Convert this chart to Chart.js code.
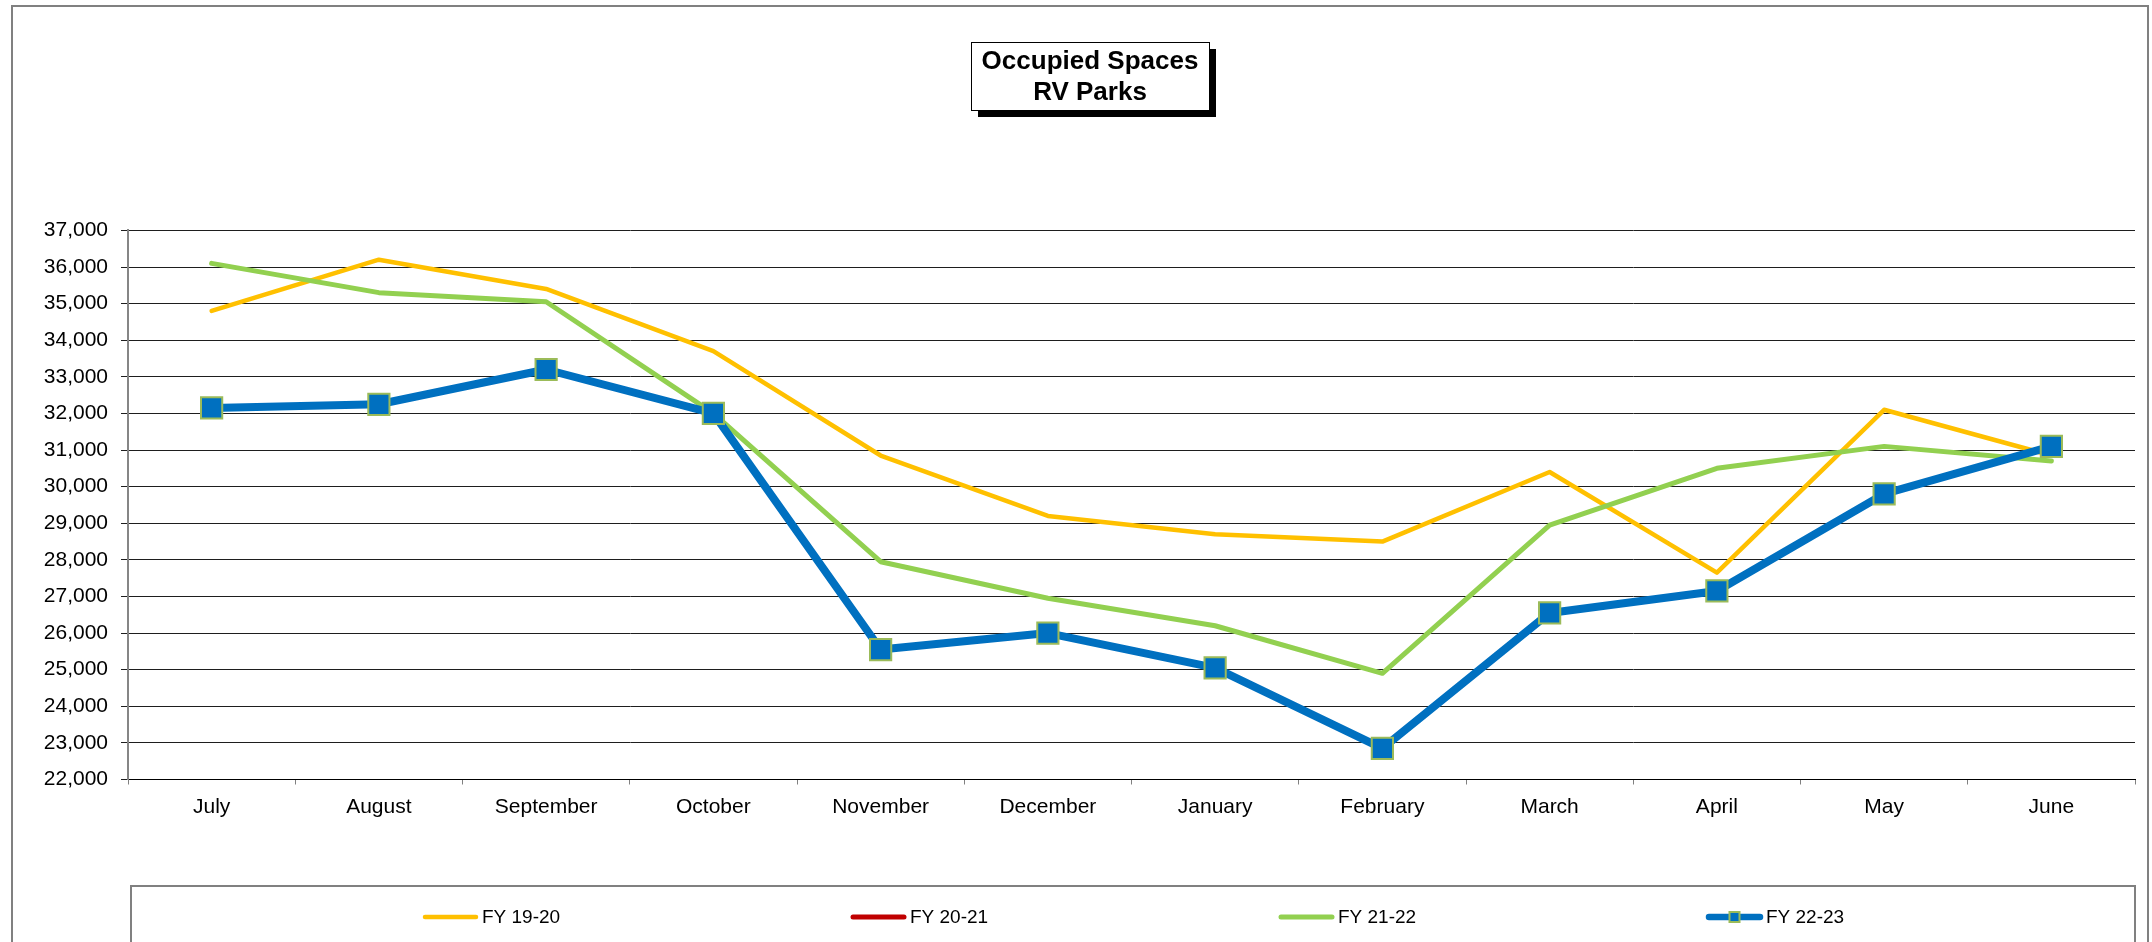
<!DOCTYPE html>
<html lang="en">
<head>
    <meta charset="UTF-8">
    <title>Occupied Spaces - RV Parks</title>

    <!-- Chart.js -->
    <script src="https://cdn.jsdelivr.net/npm/chart.js"></script>

    <style>
        html, body {
            margin: 0;
            padding: 0;
            background: #fff;
        }
        #chartBox {
            width: 2152px;
            height: 942px;
        }
    </style>
</head>
<body>
    <div id="chartBox">
        <canvas id="rvChart" width="2152" height="942"></canvas>
    </div>

    <script>
        // Months of the fiscal year (x axis)
        const months = ['July', 'August', 'September', 'October', 'November', 'December',
                        'January', 'February', 'March', 'April', 'May', 'June'];

        // Occupied spaces per fiscal year
        const fy1920 = [34800, 36200, 35400, 33700, 30850, 29200, 28700, 28500, 30400, 27650, 32100, 30850];
        const fy2021 = [];   // listed in the legend, no line drawn
        const fy2122 = [36100, 35300, 35050, 32000, 27950, 26950, 26200, 24900, 28950, 30500, 31100, 30700];
        const fy2223 = [32150, 32250, 33200, 32000, 25550, 26000, 25050, 22850, 26550, 27150, 29800, 31100];

        // Y axis range
        const yMin = 22000;
        const yMax = 37000;
        const yStep = 1000;

        const FONT = '"Liberation Sans", Arial, Helvetica, sans-serif';

        // Outer frame and the shadowed box behind the title
        const framePlugin = {
            id: 'framePlugin',
            beforeDraw(chart) {
                const ctx = chart.ctx;
                ctx.save();
                ctx.fillStyle = '#fff';
                ctx.fillRect(0, 0, chart.width, chart.height);

                ctx.strokeStyle = '#808080';
                ctx.lineWidth = 2;
                ctx.strokeRect(12, 6, chart.width - 16, chart.height + 20);

                // title box with a hard black shadow
                const t = chart.titleBlock;
                const cx = (t.left + t.right) / 2;
                const w = 238, h = 68, top = 42;
                ctx.fillStyle = '#000';
                ctx.fillRect(cx - w / 2 + 7, top + 7, w, h);
                ctx.fillStyle = '#fff';
                ctx.fillRect(cx - w / 2, top, w, h);
                ctx.strokeStyle = '#000';
                ctx.lineWidth = 1;
                ctx.strokeRect(Math.round(cx - w / 2) + 0.5, top + 0.5, w, h);
                ctx.restore();
            }
        };

        // Boxed legend under the chart, items spread out like the Excel original
        const legendPlugin = {
            id: 'legendPlugin',
            afterDraw(chart) {
                const ctx = chart.ctx;
                const area = chart.chartArea;
                const left = area.left + 3;
                const right = area.right;
                const top = area.bottom + 106.5;

                ctx.save();
                ctx.strokeStyle = '#808080';
                ctx.lineWidth = 2;
                ctx.strokeRect(left, top, right - left, chart.height - top + 20);

                const step = 428;
                const itemWidth = 138;
                const sets = chart.data.datasets;
                let x = (left + right) / 2 - ((sets.length - 1) * step + itemWidth) / 2;
                const y = top + 31;

                ctx.font = '19px ' + FONT;
                ctx.textBaseline = 'middle';
                ctx.textAlign = 'left';

                sets.forEach(ds => {
                    ctx.strokeStyle = ds.borderColor;
                    ctx.lineWidth = Math.min(ds.borderWidth, 6.5);
                    ctx.lineCap = 'round';
                    ctx.beginPath();
                    ctx.moveTo(x + 3, y);
                    ctx.lineTo(x + 54, y);
                    ctx.stroke();

                    if (ds.pointRadius > 0) {
                        ctx.fillStyle = ds.pointBackgroundColor;
                        ctx.fillRect(x + 23.5, y - 5, 10, 10);
                        ctx.strokeStyle = ds.pointBorderColor;
                        ctx.lineWidth = 2;
                        ctx.strokeRect(x + 23.5, y - 5, 10, 10);
                    }

                    ctx.fillStyle = '#000';
                    ctx.fillText(ds.label, x + 60, y + 1);
                    x += step;
                });
                ctx.restore();
            }
        };

        const ctx = document.getElementById('rvChart').getContext('2d');
        new Chart(ctx, {
            type: 'line',
            data: {
                labels: months,
                datasets: [
                    {
                        label: 'FY 19-20',
                        data: fy1920,
                        borderColor: '#FFC000',
                        backgroundColor: '#FFC000',
                        borderWidth: 4.5,
                        pointRadius: 0,
                        order: 3
                    },
                    {
                        label: 'FY 20-21',
                        data: fy2021,
                        borderColor: '#C00000',
                        backgroundColor: '#C00000',
                        borderWidth: 5,
                        pointRadius: 0,
                        order: 2
                    },
                    {
                        label: 'FY 21-22',
                        data: fy2122,
                        borderColor: '#92D050',
                        backgroundColor: '#92D050',
                        borderWidth: 5,
                        pointRadius: 0,
                        order: 1
                    },
                    {
                        label: 'FY 22-23',
                        data: fy2223,
                        borderColor: '#0070C0',
                        backgroundColor: '#0070C0',
                        borderWidth: 8,
                        pointStyle: 'rect',
                        pointRadius: 15,
                        pointBackgroundColor: '#0070C0',
                        pointBorderColor: '#9BBB59',
                        pointBorderWidth: 2,
                        order: 0
                    }
                ]
            },
            options: {
                responsive: false,
                animation: false,
                devicePixelRatio: 1,
                elements: {
                    line: { tension: 0, borderJoinStyle: 'round', borderCapStyle: 'round' }
                },
                layout: {
                    padding: { left: 37, right: 9, top: 0, bottom: 102.5 }
                },
                scales: {
                    x: {
                        offset: true,
                        grid: {
                            offset: true,
                            drawOnChartArea: false,
                            drawTicks: true,
                            tickLength: 5,
                            color: '#808080'
                        },
                        border: { color: '#000', width: 1 },
                        ticks: {
                            color: '#000',
                            font: { family: FONT, size: 21 },
                            padding: 10,
                            maxRotation: 0,
                            autoSkip: false
                        },
                        afterFit(scale) { scale.height = 60; }
                    },
                    y: {
                        min: yMin,
                        max: yMax,
                        grid: {
                            color: '#1e1e1e',
                            lineWidth: 1,
                            drawTicks: true,
                            tickLength: 7
                        },
                        border: { color: '#868686', width: 2 },
                        ticks: {
                            stepSize: yStep,
                            color: '#000',
                            font: { family: FONT, size: 21 },
                            padding: 13,
                            callback: v => v.toLocaleString('en-US')
                        },
                        afterFit(scale) { scale.width = 91; }
                    }
                },
                plugins: {
                    title: {
                        display: true,
                        text: ['Occupied Spaces', 'RV Parks'],
                        color: '#000',
                        font: { family: FONT, size: 26, weight: 'bold', lineHeight: 1.2 },
                        padding: { top: 46, bottom: 122 }
                    },
                    legend: { display: false },
                    tooltip: { enabled: false }
                }
            },
            plugins: [framePlugin, legendPlugin]
        });
    </script>
</body>
</html>
